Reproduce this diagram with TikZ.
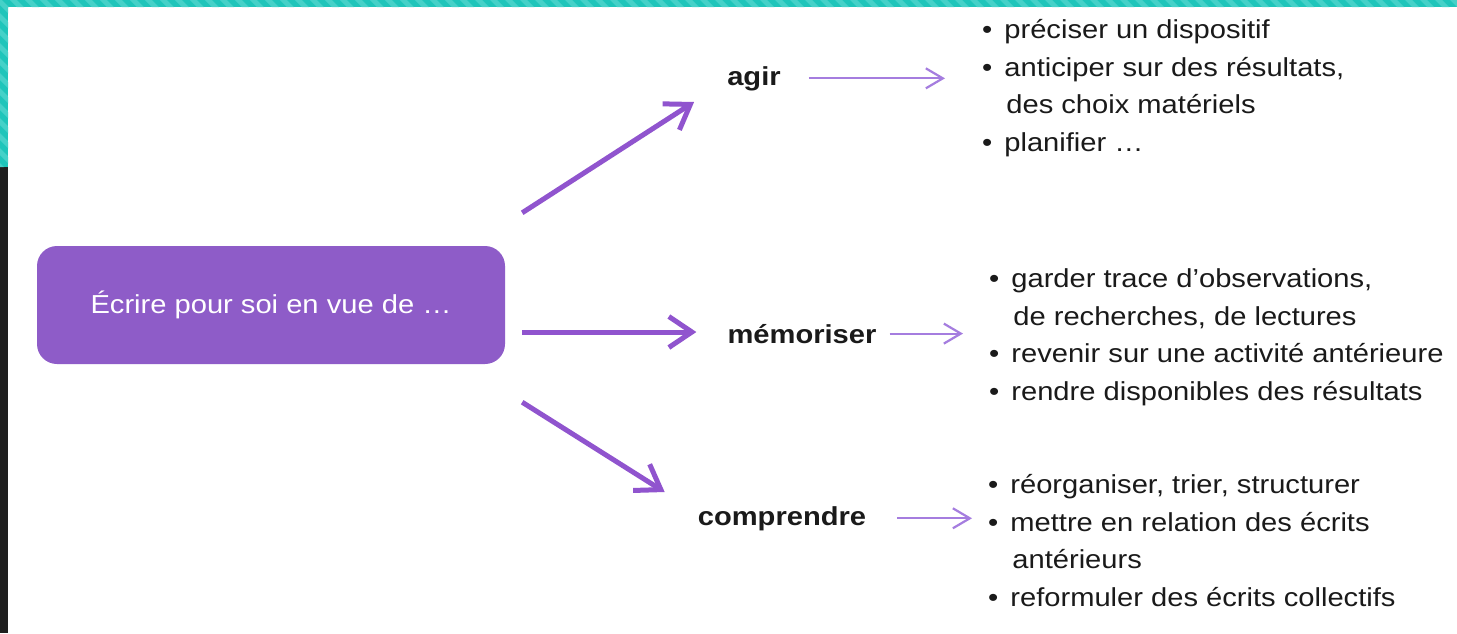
\documentclass[tikz,border=0pt]{standalone}
\usepackage{fontspec}
\setmainfont{Liberation Sans}[FakeStretch=1.12]
\usetikzlibrary{arrows.meta, positioning, calc}

\definecolor{boxpurple}{HTML}{8E5CC8}
\definecolor{arrowpurple}{HTML}{9054CE}
\definecolor{lightpurple}{HTML}{A57DDF}
\definecolor{frameteal}{HTML}{1FC5BA}
\definecolor{stripeteal}{HTML}{45D1C8}
\definecolor{framedark}{HTML}{1F1F1F}
\definecolor{inktext}{HTML}{1A1A1A}

% bullet, and the indent for a bullet line that goes on
\newcommand{\bul}{•\hspace{12pt}}
\newcommand{\contline}{\phantom{•}\hspace{14pt}}

\begin{document}
\begin{tikzpicture}[
x=1pt, y=-1pt,
every node/.style={font=\fontsize{26}{37.5}\selectfont, text=inktext, inner sep=0pt},
goalbox/.style={fill=boxpurple, rounded corners=20pt, minimum width=468pt, minimum height=118pt, text=white},
verb/.style={font=\fontsize{26}{37.5}\selectfont\bfseries},
itemlist/.style={align=left, anchor=base west},
bigarrow/.style={-{Straight Barb[length=23pt, width=31pt]}, line width=5pt, draw=arrowpurple},
thinarrow/.style={-{Straight Barb[length=17pt, width=20pt]}, line width=2.2pt, draw=lightpurple}
]
\useasboundingbox (0,0) rectangle (1457,633);

% frame
\fill[white] (0,0) rectangle (1457,633);
\fill[frameteal] (0,0) rectangle (1457,7);
\fill[frameteal] (0,0) rectangle (8,167);
\fill[framedark] (0,167) rectangle (8,633);
\begin{scope}
\clip (0,0) -- (1457,0) -- (1457,7) -- (8,7) -- (8,167) -- (0,167) -- cycle;
\foreach \s in {-170,-155,...,1460}
  \fill[stripeteal] (\s,0) -- ++(7,0) -- ++(170,170) -- ++(-7,0) -- cycle;
\end{scope}

% main box and the three verbs
\node[goalbox] (ecrire) at (271,305) {Écrire pour soi en vue de …};
\node[verb, anchor=base] (agir) at (754,85) {agir};
\node[verb, anchor=base] (memo) at (802,343) {mémoriser};
\node[verb, anchor=base] (compr) at (782,525) {comprendre};

% bullet lists
\node[itemlist] (agirlist) at (982,151) {\bul préciser un dispositif\\\bul anticiper sur des résultats,\\\contline des choix matériels\\\bul planifier …};
\node[itemlist] (memolist) at (989,400) {\bul garder trace d’observations,\\\contline de recherches, de lectures\\\bul revenir sur une activité antérieure\\\bul rendre disponibles des résultats};
\node[itemlist] (comprlist) at (988,606) {\bul réorganiser, trier, structurer\\\bul mettre en relation des écrits\\\contline antérieurs\\\bul reformuler des écrits collectifs};

\draw[bigarrow] ([shift={(17,-33)}]ecrire.north east) -- ([shift={(-33,17)}]agir.base west);
\draw[bigarrow] ([shift={(17,27)}]ecrire.east) -- ([shift={(-31,-11)}]memo.base west);
\draw[bigarrow] ([shift={(17,38)}]ecrire.south east) -- ([shift={(-33,-33)}]compr.base west);

\draw[thinarrow, shorten <=28pt, shorten >=37pt] (agir.east) -- (agir.east -| agirlist.west);
\draw[thinarrow, shorten <=13pt, shorten >=26pt] (memo.east) -- (memo.east -| memolist.west);
\draw[thinarrow, shorten <=31pt, shorten >=16pt] (compr.east) -- (compr.east -| comprlist.west);

\end{tikzpicture}
\end{document}
